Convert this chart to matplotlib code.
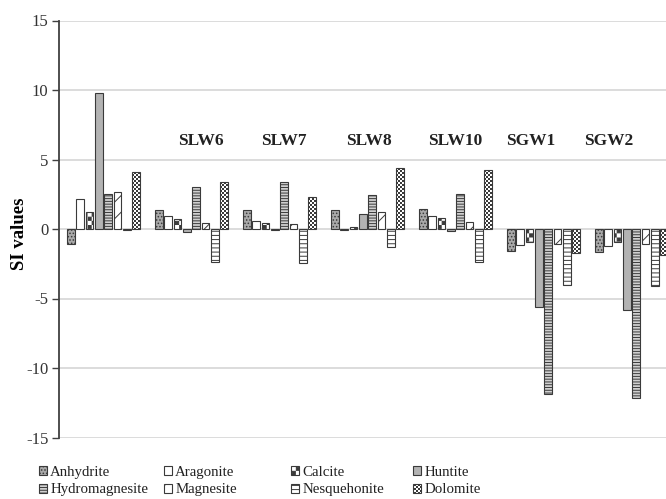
import warnings
import numpy as np
import matplotlib
matplotlib.use("Agg")
import matplotlib.pyplot as plt
from matplotlib import hatch as mhatch
from matplotlib.path import Path

warnings.filterwarnings("ignore", message="hatch must consist")

# ---- data -------------------------------------------------------------
minerals = ["Anhydrite", "Aragonite", "Calcite", "Huntite",
            "Hydromagnesite", "Magnesite", "Nesquehonite", "Dolomite"]
samples = ["", "SLW6", "SLW7", "SLW8", "SLW10", "SGW1", "SGW2"]

si_first = [-1.05, 2.18, 1.20, 9.76, 2.52, 2.64, -0.08, 4.08]
si_slw6 = [1.38, 0.94, 0.75, -0.24, 3.00, 0.46, -2.40, 3.38]
si_slw7 = [1.35, 0.60, 0.45, -0.06, 3.35, 0.36, -2.45, 2.27]
si_slw8 = [1.38, -0.06, 0.17, 1.06, 2.46, 1.23, -1.28, 4.42]
si_slw10 = [1.47, 0.94, 0.77, -0.15, 2.53, 0.48, -2.35, 4.23]
si_sgw1 = [-1.59, -1.16, -0.91, -5.58, -11.85, -1.06, -4.04, -1.76]
si_sgw2 = [-1.68, -1.20, -0.96, -5.84, -12.13, -1.10, -4.08, -1.87]

yticks = [-15, -10, -5, 0, 5, 10, 15]

# ---- fonts / rc -------------------------------------------------------
plt.rcParams["font.family"] = ["Liberation Serif", "DejaVu Serif"]
plt.rcParams["axes.unicode_minus"] = False
plt.rcParams["hatch.linewidth"] = 0.7


class CheckerHatch(mhatch.HatchPatternBase):
    """Filled checkerboard hatch, triggered by the letter 'c'."""

    def __init__(self, hatch, density):
        self.num_cells = 2 * hatch.count("c")
        self.num_vertices = (self.num_cells ** 2 // 2) * 5

    def set_vertices_and_codes(self, vertices, codes):
        n = self.num_cells
        size = 1.0 / n
        inset = plt.rcParams["hatch.linewidth"] / 144.0
        k = 0
        for i in range(n):
            for j in range(n):
                if (i + j) % 2 == 0:
                    x0, y0 = i * size + inset, j * size + inset
                    x1, y1 = (i + 1) * size - inset, (j + 1) * size - inset
                    vertices[k:k + 5] = [(x0, y0), (x1, y0), (x1, y1),
                                         (x0, y1), (x0, y0)]
                    codes[k:k + 5] = [Path.MOVETO, Path.LINETO, Path.LINETO,
                                      Path.LINETO, Path.CLOSEPOLY]
                    k += 5


mhatch._hatch_types.append(CheckerHatch)

edge = "#3a3a3a"
styles = {
    "Anhydrite": dict(facecolor="#a9a9a9", hatch="....."),
    "Aragonite": dict(facecolor="white", hatch=None),
    "Calcite": dict(facecolor="white", hatch="c" * 12),
    "Huntite": dict(facecolor="#b3b3b3", hatch=None),
    "Hydromagnesite": dict(facecolor="#d0d0d0", hatch="------"),
    "Magnesite": dict(facecolor="white", hatch="//"),
    "Nesquehonite": dict(facecolor="white", hatch="----"),
    "Dolomite": dict(facecolor="white", hatch="c" * 25),
}

values = np.array([si_first, si_slw6, si_slw7, si_slw8,
                   si_slw10, si_sgw1, si_sgw2])

# ---- figure -----------------------------------------------------------
fig = plt.figure(figsize=(6.66, 4.99), dpi=100)
ax = fig.add_axes([59.4 / 666, 61.5 / 499, 616 / 666, 417 / 499])

x = np.arange(len(samples))
pitch = 0.1057
width = 0.0875
handles = []
for k, name in enumerate(minerals):
    st = styles[name]
    bars = ax.bar(x + (k - 3.5) * pitch, values[:, k], width,
                  facecolor=st["facecolor"], hatch=st["hatch"],
                  edgecolor=edge, linewidth=0.8, zorder=3, label=name)
    handles.append(bars)

ax.set_xlim(-0.5, len(samples) - 0.5)
ax.set_ylim(-15, 15)
ax.set_yticks(yticks)
ax.set_yticklabels([str(t) for t in yticks])
ax.set_xticks([])
ax.grid(axis="y", color="#d9d9d9", linewidth=1.3, zorder=0)
for side in ("top", "right", "bottom"):
    ax.spines[side].set_visible(False)
ax.spines["left"].set_color("#404040")
ax.spines["left"].set_linewidth(1.3)
ax.tick_params(axis="y", direction="out", length=5, width=1.0,
               color="#404040", labelsize=12, labelcolor="#333333", pad=3)

ax.set_ylabel("SI values", fontsize=13.5, fontweight="bold", va="center")
ax.yaxis.set_label_coords(-0.0654, 0.488)

# sample names above each group
label_x = [None, 1.11, 2.05, 3.02, 4.00, 4.86, 5.74]
for name, lx in zip(samples, label_x):
    if name and lx is not None:
        ax.text(lx, 6.3, name, ha="center", va="center", fontsize=12.5,
                fontweight="bold", color="#222222", zorder=4)

# legend: four columns, two entries each
col_left = [39, 164, 291, 413]
for c in range(4):
    leg = fig.legend([handles[c], handles[c + 4]],
                     [minerals[c], minerals[c + 4]],
                     loc="upper left",
                     bbox_to_anchor=(col_left[c] / 666, 33 / 499),
                     frameon=False, fontsize=10.7, handlelength=0.55,
                     handleheight=0.55, handletextpad=0.2, borderpad=0,
                     borderaxespad=0, labelspacing=0.3)
    for t in leg.get_texts():
        t.set_color("#222222")

fig.savefig("out.png", dpi=100)
